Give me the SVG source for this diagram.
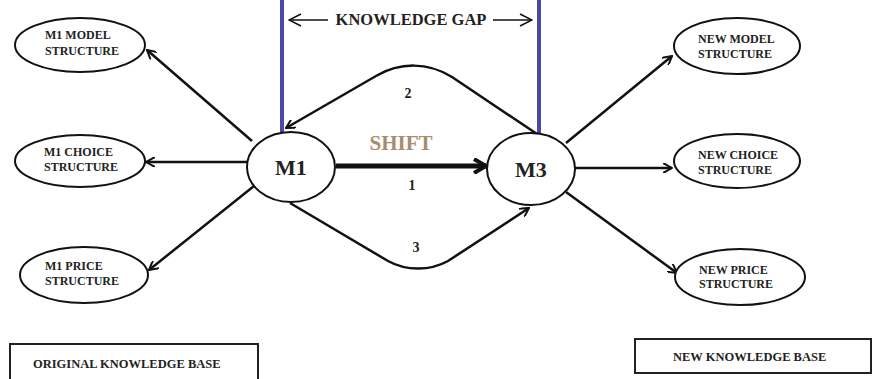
<svg xmlns="http://www.w3.org/2000/svg" width="872" height="379" viewBox="0 0 872 379">
<style>
.node{fill:#fff;stroke:#111;stroke-width:2}
.lbl{font-family:"Liberation Serif",serif;font-weight:bold;font-size:12px;fill:#222}
.big{font-family:"Liberation Serif",serif;font-weight:bold;font-size:22px;fill:#222}
.num{font-family:"Liberation Serif",serif;font-weight:bold;font-size:14px;fill:#222}
.edge{fill:none;stroke:#111;stroke-width:2.5;marker-end:url(#ah)}
.gap{fill:none;stroke:#111;stroke-width:1.5}
.blue{stroke:#4a4aa8;stroke-width:4}
.box{fill:#fff;stroke:#222;stroke-width:2}
</style>
<defs>
<marker id="ah" markerWidth="10" markerHeight="10" refX="9" refY="5" orient="auto" markerUnits="userSpaceOnUse" viewBox="0 0 10 10">
<path d="M0,0 L9,5 L0,10" fill="none" stroke="#111" stroke-width="2"/>
</marker>
<marker id="ahThick" markerWidth="16" markerHeight="16" refX="13" refY="8" orient="auto" markerUnits="userSpaceOnUse" viewBox="0 0 16 16">
<path d="M1,1 L13,8 L1,15" fill="none" stroke="#111" stroke-width="4"/>
</marker>
<marker id="ahGap" markerWidth="14" markerHeight="14" refX="13" refY="7" orient="auto" markerUnits="userSpaceOnUse" viewBox="0 0 14 14">
<path d="M1,1 L13,7 L1,13" fill="none" stroke="#111" stroke-width="1.5"/>
</marker>
</defs>
<rect width="872" height="379" fill="#fff"/>

<g id="blue-lines">
<line class="blue" x1="282" y1="0" x2="282" y2="132"/>
<line class="blue" x1="539" y1="0" x2="539" y2="135"/>
</g>

<g id="knowledge-gap">
<line class="gap" x1="328" y1="20" x2="289" y2="20" marker-end="url(#ahGap)"/>
<line class="gap" x1="493" y1="20" x2="532" y2="20" marker-end="url(#ahGap)"/>
<text class="lbl" x="411" y="25" text-anchor="middle" style="font-size:16.5px">KNOWLEDGE GAP</text>
</g>

<g id="connectors">
<line class="edge" x1="252" y1="141" x2="147" y2="50"/>
<line class="edge" x1="247" y1="162" x2="146" y2="162"/>
<line class="edge" x1="254" y1="186" x2="149" y2="270"/>
<line class="edge" x1="566" y1="143" x2="672" y2="56"/>
<line class="edge" x1="575" y1="168" x2="672" y2="168"/>
<line class="edge" x1="566" y1="192" x2="677" y2="273"/>
<line x1="336" y1="166" x2="486" y2="166" fill="none" stroke="#111" stroke-width="5" marker-end="url(#ahThick)"/>
<path class="edge" d="M537,134 L452,77 C428,62 400,62 376,76 L286,128"/>
<path class="edge" d="M290,203 L388,261 C406,271 430,271 448,261 L529,208"/>
<text class="num" x="408" y="98" text-anchor="middle">2</text>
<text class="num" x="412" y="190" text-anchor="middle">1</text>
<text class="num" x="416" y="252" text-anchor="middle">3</text>
<text x="401" y="150" text-anchor="middle" style="font-family:'Liberation Serif',serif;font-weight:bold;font-size:21px;fill:#a88c6e">SHIFT</text>
</g>

<g id="m1">
<ellipse class="node" cx="291" cy="167" rx="44" ry="35"/>
<text class="big" x="291" y="175" text-anchor="middle">M1</text>
</g>
<g id="m3">
<ellipse class="node" cx="531" cy="169" rx="44" ry="36"/>
<text class="big" x="531" y="177" text-anchor="middle">M3</text>
</g>

<g id="m1-model">
<ellipse class="node" cx="80" cy="45" rx="65" ry="27"/>
<text class="lbl" x="45" y="39">M1 MODEL</text>
<text class="lbl" x="45" y="55">STRUCTURE</text>
</g>
<g id="m1-choice">
<ellipse class="node" cx="80" cy="161" rx="65" ry="26"/>
<text class="lbl" x="44" y="156">M1 CHOICE</text>
<text class="lbl" x="44" y="171">STRUCTURE</text>
</g>
<g id="m1-price">
<ellipse class="node" cx="84" cy="275" rx="64" ry="28"/>
<text class="lbl" x="45" y="270">M1 PRICE</text>
<text class="lbl" x="45" y="285">STRUCTURE</text>
</g>

<g id="new-model">
<ellipse class="node" cx="737" cy="46" rx="63" ry="28"/>
<text class="lbl" x="698" y="43">NEW MODEL</text>
<text class="lbl" x="698" y="58">STRUCTURE</text>
</g>
<g id="new-choice">
<ellipse class="node" cx="737" cy="161" rx="63" ry="27"/>
<text class="lbl" x="698" y="159">NEW CHOICE</text>
<text class="lbl" x="698" y="174">STRUCTURE</text>
</g>
<g id="new-price">
<ellipse class="node" cx="740" cy="277" rx="65" ry="28"/>
<text class="lbl" x="699" y="274">NEW PRICE</text>
<text class="lbl" x="699" y="288">STRUCTURE</text>
</g>

<g id="original-knowledge-base">
<rect class="box" x="10" y="344" width="248" height="40"/>
<text class="lbl" x="33" y="368" style="font-size:12.5px">ORIGINAL KNOWLEDGE BASE</text>
</g>
<g id="new-knowledge-base">
<rect class="box" x="635" y="339" width="236" height="34"/>
<text class="lbl" x="673" y="361" style="font-size:12.5px">NEW KNOWLEDGE BASE</text>
</g>
</svg>
